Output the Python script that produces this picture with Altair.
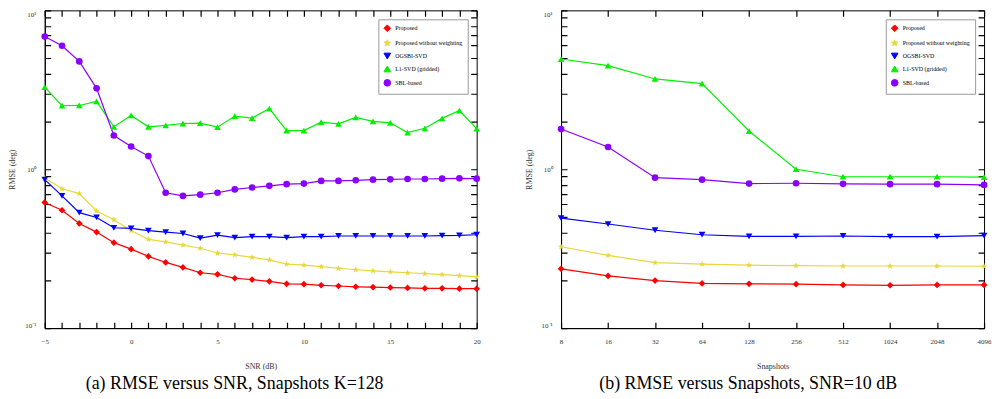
import math
import altair as alt
import pandas as pd

methods = ["Proposed", "Proposed without weighting", "OGSBI-SVD", "L1-SVD (gridded)", "SBL-based"]
colors = ["#FF0000", "#E8D83C", "#0000FF", "#00F000", "#8A00FF"]

# (a) RMSE versus SNR, K=128
snr = list(range(-5, 21))
a_red = [0.618, 0.552, 0.456, 0.402, 0.345, 0.314, 0.283, 0.259, 0.241, 0.223, 0.218, 0.206, 0.202,
         0.197, 0.190, 0.189, 0.186, 0.184, 0.182, 0.181, 0.180, 0.179, 0.178, 0.178, 0.177, 0.177]
a_yellow = [0.880, 0.753, 0.702, 0.546, 0.481, 0.411, 0.362, 0.349, 0.333, 0.318, 0.297, 0.289, 0.279,
            0.269, 0.253, 0.249, 0.244, 0.238, 0.233, 0.229, 0.226, 0.223, 0.220, 0.217, 0.214, 0.210]
a_blue = [0.860, 0.679, 0.533, 0.497, 0.428, 0.424, 0.411, 0.402, 0.394, 0.369, 0.385, 0.371, 0.376,
          0.376, 0.371, 0.376, 0.376, 0.380, 0.380, 0.380, 0.380, 0.380, 0.380, 0.382, 0.383, 0.387]
a_green = [3.29, 2.51, 2.52, 2.67, 1.85, 2.18, 1.85, 1.89, 1.94, 1.95, 1.84, 2.16, 2.10,
           2.41, 1.75, 1.75, 1.98, 1.93, 2.12, 2.00, 1.96, 1.70, 1.81, 2.09, 2.34, 1.80]
a_purple = [6.84, 5.99, 4.77, 3.23, 1.63, 1.39, 1.21, 0.711, 0.679, 0.692, 0.711, 0.746, 0.767,
            0.786, 0.805, 0.812, 0.844, 0.844, 0.852, 0.860, 0.864, 0.868, 0.868, 0.872, 0.876, 0.872]

# (b) RMSE versus Snapshots, SNR=10 dB
snapshots = [8, 16, 32, 64, 128, 256, 512, 1024, 2048, 4096]
b_red = [0.236, 0.213, 0.199, 0.191, 0.190, 0.189, 0.187, 0.186, 0.187, 0.187]
b_yellow = [0.325, 0.287, 0.258, 0.253, 0.249, 0.247, 0.246, 0.246, 0.246, 0.245]
b_blue = [0.492, 0.452, 0.413, 0.387, 0.378, 0.378, 0.380, 0.376, 0.376, 0.382]
b_green = [4.94, 4.49, 3.70, 3.46, 1.74, 1.00, 0.897, 0.897, 0.897, 0.893]
b_purple = [1.79, 1.38, 0.885, 0.860, 0.812, 0.816, 0.809, 0.805, 0.805, 0.797]

y_tick_values = [round(m * 10 ** e, 3) for e in (-1, 0) for m in range(1, 10)] + [10]
snr_label_values = [-5, 0, 5, 10, 15, 20]

# 5-point star symbol path
pts = []
for i in range(10):
    r = 1.0 if i % 2 == 0 else 0.42
    ang = -math.pi / 2 + i * math.pi / 5
    pts.append(f"{r * math.cos(ang):.3f},{r * math.sin(ang):.3f}")
star = "M" + " L".join(pts) + " Z"
shapes = ["diamond", star, "triangle-down", "triangle-up", "circle"]

SERIF = "Liberation Serif"
TICK = 6


def long_df(x, series):
    rows = []
    for name, vals in zip(methods, series):
        for xv, yv in zip(x, vals):
            rows.append({"x": xv, "rmse": yv, "method": name})
    return pd.DataFrame(rows)


def panel(df, xscale, xtick_vals, x_label_expr, xtitle, caption, width, height):
    yscale = alt.Scale(type="log", domain=[0.1, 10], nice=False)
    legend = alt.Legend(orient="top-right", title=None, fillColor="white",
                        strokeColor="#999999", padding=5, offset=9,
                        labelFontSize=6, labelFont=SERIF, symbolSize=45,
                        rowPadding=3, symbolStrokeWidth=1, labelLimit=200)
    color = alt.Color("method:N", scale=alt.Scale(domain=methods, range=colors), sort=methods,
                      legend=legend)
    shape = alt.Shape("method:N", scale=alt.Scale(domain=methods, range=shapes), sort=methods,
                      legend=legend)
    # inner (MATLAB-style) ticks: dashed grid with a short dash at each end of the plot
    xaxis = alt.Axis(values=xtick_vals, ticks=False, domainColor="black", labelFontSize=7,
                     labelFont=SERIF, labelColor="#333333", labelPadding=10, title=xtitle,
                     titleFontSize=8, titleFont=SERIF, titleFontWeight="normal", titlePadding=18,
                     titleColor="#333333", labelFlush=False, labelOverlap=False,
                     labelExpr=x_label_expr, grid=True, gridOpacity=1,
                     gridColor="black", gridWidth=1.2,
                     gridDash=[TICK, height - 2 * TICK, TICK])
    yaxis = alt.Axis(values=y_tick_values, ticks=False, domainColor="black", labelFontSize=7,
                     labelFont=SERIF, labelColor="#333333", labelPadding=9, labelFlush=True,
                     labelOverlap=False,
                     labelExpr="datum.value == 10 ? '10¹' : (datum.value == 1 ? '10⁰' : (datum.value == 0.1 ? '10⁻¹' : ''))",
                     title="RMSE (deg)", titleFontSize=8, titleFont=SERIF, titleFontWeight="normal",
                     titleColor="#333333", titlePadding=8, grid=True, gridOpacity=1,
                     gridColor="black", gridWidth=1.2,
                     gridDash=[TICK, width - 2 * TICK, TICK])

    X = lambda f: alt.X(f, scale=xscale, axis=xaxis, title=xtitle)
    Y = lambda f: alt.Y(f, scale=yscale, axis=yaxis, title="RMSE (deg)")

    lines = alt.Chart(df).mark_line(strokeWidth=1.2).encode(
        x=X("x:Q"), y=Y("rmse:Q"), color=color)
    points = alt.Chart(df).mark_point(filled=True, size=45, opacity=1).encode(
        x=X("x:Q"), y=Y("rmse:Q"), color=color, shape=shape)

    return alt.layer(lines, points).properties(
        width=width, height=height,
        title=alt.TitleParams(caption, orient="bottom", font=SERIF, fontSize=18,
                              fontWeight="normal", anchor="middle", frame="bounds",
                              offset=4, dx=-10, color="black"),
    )


df_a = long_df(snr, [a_red, a_yellow, a_blue, a_green, a_purple])
df_b = long_df(snapshots, [b_red, b_yellow, b_blue, b_green, b_purple])

snr_expr = "indexof([" + ",".join(str(v) for v in snr_label_values) + "], datum.value) >= 0 ? format(datum.value, 'd') : ''"

left = panel(df_a, alt.Scale(domain=[-5, 20], nice=False, zero=False),
             snr, snr_expr, "SNR (dB)",
             "(a)  RMSE versus SNR, Snapshots K=128", 435, 320)
right = panel(df_b, alt.Scale(type="log", base=2, domain=[8, 4096], nice=False),
              snapshots, "format(datum.value, 'd')", "Snapshots",
              "(b)  RMSE versus Snapshots, SNR=10 dB", 426, 320)

chart = alt.hconcat(left, right, spacing=44).resolve_scale(
    color="independent", shape="independent", x="independent", y="independent"
).resolve_legend(color="independent", shape="independent").properties(
    padding=0, background="white"
).configure_view(stroke="black", strokeWidth=1)

chart.save("out.html", embed_options={"renderer": "svg", "actions": False})
